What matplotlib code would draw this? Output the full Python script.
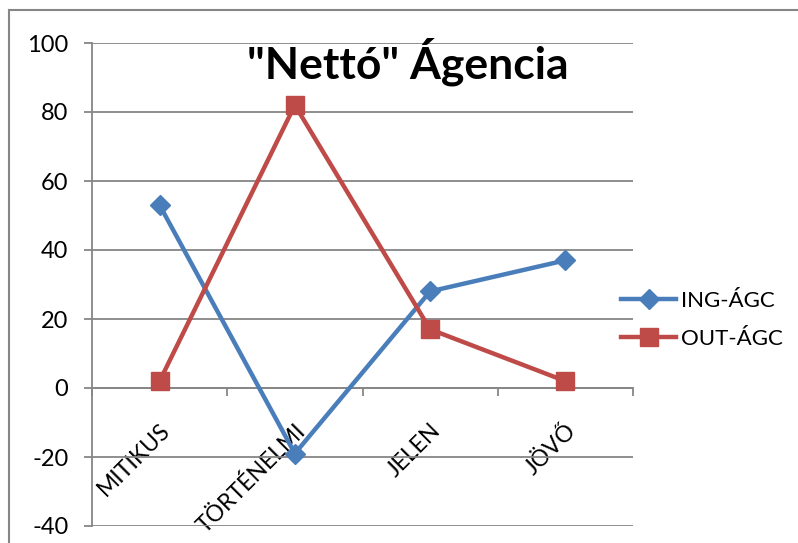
import matplotlib.pyplot as plt
from matplotlib.lines import Line2D

plt.rcParams['font.family'] = ['Lato', 'DejaVu Sans']
plt.rcParams['axes.unicode_minus'] = False

categories = ["MITIKUS", "TÖRTÉNELMI", "JELEN", "JÖVŐ"]
ing_agc = [53, -19, 28, 37]
out_agc = [2, 82, 17, 2]
y_ticks = [-40, -20, 0, 20, 40, 60, 80, 100]

blue = "#4A7EBB"
red = "#BE4B48"
grid = "#868686"

fig = plt.figure(figsize=(7.98, 5.43), dpi=100)
ax = fig.add_axes([92 / 798, 1 - 526 / 543, (633 - 92) / 798, (526 - 43) / 543])

# spine position first: moving it rebuilds the tick objects
for side in ["top", "right"]:
    ax.spines[side].set_visible(False)
ax.spines["bottom"].set_position(("data", 0))
ax.spines["bottom"].set_color(grid)
ax.spines["bottom"].set_linewidth(1.3)
ax.spines["left"].set_color(grid)
ax.spines["left"].set_linewidth(1.3)

x = list(range(len(categories)))
ax.plot(x, ing_agc, color=blue, lw=3.2, marker="D", ms=10.5,
        mec=blue, mfc=blue, label="ING-ÁGC", zorder=3)
ax.plot(x, out_agc, color=red, lw=3.2, marker="s", ms=13.5,
        mec=red, mfc=red, label="OUT-ÁGC", zorder=3)

ax.set_ylim(-40, 100)
ax.set_xlim(-0.5, len(categories) - 0.5)
ax.set_yticks(y_ticks)
ax.yaxis.grid(True, color=grid, lw=1.3)
ax.set_axisbelow(True)

# category labels sit below the zero line, slanted
ax.set_xticks(x)
ax.set_xticks([i + 0.5 for i in range(-1, len(categories))], minor=True)
ax.set_xticklabels(categories, rotation=45, ha="right", va="top",
                   rotation_mode="anchor", fontsize=16.5)
ax.tick_params(axis="x", which="major", length=0, pad=23)
ax.tick_params(axis="x", which="minor", length=6, width=1.3, color=grid, direction="out")
ax.tick_params(axis="y", length=6, width=1.3, color=grid, pad=11, labelsize=17)

fig.text(408 / 798, 1 - 62 / 543, '"Nettó" Ágencia', ha="center", va="center",
         fontsize=32, fontweight="bold")

fig.legend(loc="center left", bbox_to_anchor=(612 / 798, 1 - 320 / 543),
           frameon=False, fontsize=16, handlelength=2.5, handletextpad=0.2,
           labelspacing=0.8, borderaxespad=0)

# chart area border (left and top edges)
fig.add_artist(Line2D([9 / 798, 9 / 798], [0, 1 - 10 / 543], color=grid, lw=1.5,
                      transform=fig.transFigure))
fig.add_artist(Line2D([9 / 798, 1], [1 - 10 / 543, 1 - 10 / 543], color=grid, lw=1.5,
                      transform=fig.transFigure))

fig.savefig("out.png", dpi=100)
